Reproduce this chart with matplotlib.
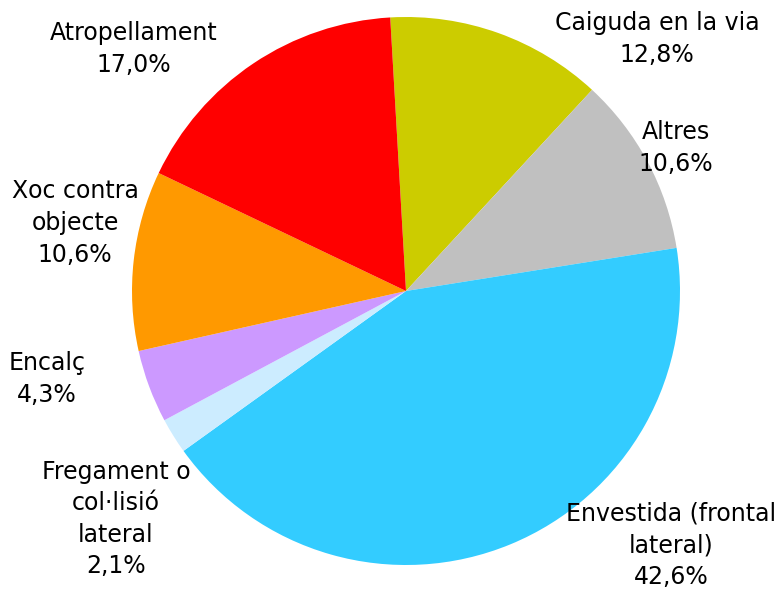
import matplotlib
matplotlib.use("Agg")
import matplotlib.pyplot as plt

# data, clockwise from the top
labels = ["Caiguda en la via", "Altres", "Envestida (frontal\nlateral)",
          "Fregament o\ncol·lisió\nlateral", "Encalç", "Xoc contra\nobjecte",
          "Atropellament"]
values = [12.8, 10.6, 42.6, 2.1, 4.3, 10.6, 17.0]
colors = ["#CCCC00", "#C0C0C0", "#33CCFF", "#CCECFF", "#CC99FF", "#FF9900", "#FF0000"]

# label centres in pixels (layout only)
label_px = [(657, 39), (676, 148), (671, 545), (116, 519), (47, 379), (75, 223), (134, 49)]

W, H = 780, 590
cx, cy, r = 406, 291, 274

fig = plt.figure(figsize=(W / 100, H / 100), dpi=100)
ax = fig.add_axes([(cx - r) / W, (H - cy - r) / H, 2 * r / W, 2 * r / H])

ax.pie(values, colors=colors, startangle=93.3, counterclock=False,
       radius=1.0, wedgeprops=dict(linewidth=0))
ax.set_xlim(-1, 1)
ax.set_ylim(-1, 1)
ax.set_aspect("equal")
ax.axis("off")

for lab, v, (px, py) in zip(labels, values, label_px):
    txt = lab + "\n" + f"{v:.1f}%".replace(".", ",")
    fig.text(px / W, 1 - py / H, txt, ha="center", va="center",
             fontsize=17, family="DejaVu Sans", color="black", linespacing=1.4)

fig.savefig("out.png", dpi=100)
